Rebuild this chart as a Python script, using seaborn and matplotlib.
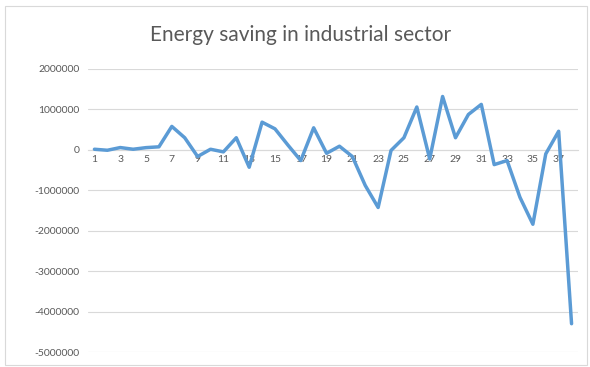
import matplotlib
matplotlib.use("Agg")
import matplotlib.pyplot as plt
import matplotlib.ticker as mticker
from matplotlib.patches import Rectangle
import seaborn as sns
import pandas as pd

# Annual energy saving in the industrial sector, periods 1..38
periods = list(range(1, 39))
savings = [
    15000, -10000, 57000, 15000, 55000, 75000, 580000, 300000, -165000, 15000,
    -50000, 300000, -430000, 685000, 520000, 120000, -265000, 545000, -85000, 90000,
    -165000, -880000, -1425000, -15000, 300000, 1060000, -225000, 1320000, 300000, 875000,
    1125000, -365000, -265000, -1175000, -1840000, -100000, 460000, -4300000,
]
y_ticks = [2000000, 1000000, 0, -1000000, -2000000, -3000000, -4000000, -5000000]
x_tick_labels = list(range(1, 39, 2))
title = "Energy saving in industrial sector"

df = pd.DataFrame({"period": periods, "saving": savings})

sns.set_style("white")
plt.rcParams["font.family"] = ["Lato", "DejaVu Sans"]

text_grey = "#595959"
grid_grey = "#d9d9d9"
line_blue = "#5b9bd5"

fig = plt.figure(figsize=(5.9, 3.67), dpi=100)
ax = fig.add_axes([88 / 590, 1 - 352 / 367, 490 / 590, 283 / 367])

sns.lineplot(data=df, x="period", y="saving", ax=ax, color=line_blue,
             linewidth=2.5, solid_joinstyle="round", zorder=3)

ax.set_xlim(0.5, 38.5)
ax.set_ylim(-5000000, 2000000)
ax.set_yticks(y_ticks)
ax.yaxis.set_major_formatter(mticker.FuncFormatter(lambda v, _: f"{int(round(v))}"))
ax.set_xticks(x_tick_labels)
ax.set_xticklabels([str(v) for v in x_tick_labels])

ax.grid(axis="y", color=grid_grey, linewidth=0.8)
ax.grid(axis="x", visible=False)
ax.set_axisbelow(True)

for side in ("top", "right", "left"):
    ax.spines[side].set_visible(False)
ax.spines["bottom"].set_position(("data", 0))
ax.spines["bottom"].set_color(grid_grey)
ax.spines["bottom"].set_linewidth(0.8)

ax.tick_params(axis="both", length=0, labelsize=7.5, labelcolor=text_grey)
ax.tick_params(axis="x", pad=4)
ax.tick_params(axis="y", pad=6)
ax.set_xlabel("")
ax.set_ylabel("")

fig.text(0.51, 1 - 35 / 367, title, ha="center", va="center",
         fontsize=15, color=text_grey)

# chart frame
fig.patches.append(Rectangle((5 / 590, 2 / 367), 582 / 590, 359 / 367,
                             transform=fig.transFigure, fill=False,
                             edgecolor=grid_grey, linewidth=0.8))

fig.savefig("out.png", dpi=100, facecolor="white")
